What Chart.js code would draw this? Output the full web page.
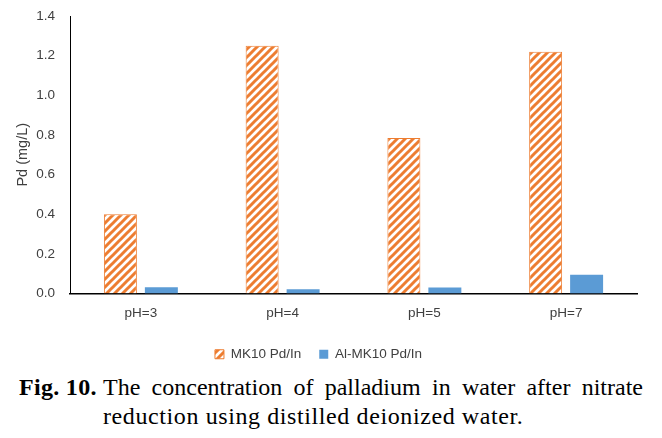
<!DOCTYPE html>
<html><head><meta charset="utf-8">
<script src="https://cdn.jsdelivr.net/npm/chart.js@4"></script>
<style>
html,body{margin:0;padding:0;background:#fff;width:662px;height:438px;overflow:hidden;}
#wrap{position:absolute;left:0;top:0;width:662px;height:371px;}
.cap{position:absolute;font-family:"Liberation Serif","Times New Roman",serif;font-size:24px;line-height:29px;color:#000;white-space:nowrap;}
#fig{left:19px;top:373px;font-weight:bold;letter-spacing:0.3px;}
#l1{left:103px;top:373px;width:540px;text-align:justify;text-align-last:justify;white-space:normal;}
#l2{left:103px;top:402px;letter-spacing:0.6px;}
</style></head><body>
<div id="wrap"><canvas id="c"></canvas></div>
<div class="cap" id="fig">Fig. 10.</div>
<div class="cap" id="l1">The concentration of palladium in water after nitrate</div>
<div class="cap" id="l2">reduction using distilled deionized water.</div>
<script>
const categories = ['pH=3','pH=4','pH=5','pH=7'];
const mk10 = [0.40, 1.25, 0.785, 1.22];
const alMk10 = [0.032, 0.022, 0.030, 0.095];
const seriesNames = ['MK10 Pd/In','Al-MK10 Pd/In'];
const yTicks = [0,0.2,0.4,0.6,0.8,1.0,1.2,1.4];

const pc = document.createElement('canvas'); pc.width = 8; pc.height = 8;
const g = pc.getContext('2d');
g.fillStyle = '#fff'; g.fillRect(0,0,8,8);
g.strokeStyle = '#ED7D31'; g.lineWidth = 3;
g.beginPath();
g.moveTo(0,8); g.lineTo(8,0);
g.moveTo(-4,4); g.lineTo(4,-4);
g.moveTo(4,12); g.lineTo(12,4);
g.stroke();
const hatch = g.createPattern(pc,'repeat');

const font = {family:'"Liberation Sans", Arial, sans-serif', size:13.5};
const titleFont = {family:'"Liberation Sans", Arial, sans-serif', size:14.5};
new Chart(document.getElementById('c'), {
  type:'bar',
  data:{
    labels:categories,
    datasets:[
      {label:seriesNames[0], data:mk10, backgroundColor:hatch, borderColor:'#ED7D31', borderWidth:1,
       categoryPercentage:0.578, barPercentage:0.805},
      {label:seriesNames[1], data:alMk10, backgroundColor:'#5B9BD5', borderWidth:0,
       categoryPercentage:0.578, barPercentage:0.805}
    ]
  },
  options:{
    responsive:true, maintainAspectRatio:false, animation:false,
    layout:{padding:{top:16,right:25,left:0,bottom:0}},
    plugins:{
      tooltip:{enabled:false},
      legend:{position:'bottom', labels:{boxWidth:9, boxHeight:9, padding:18, color:'#404040', font:font}}
    },
    scales:{
      x:{
        grid:{display:false, drawTicks:false},
        border:{display:true, color:'#000', width:1.5},
        ticks:{color:'#404040', font:font, padding:12, maxRotation:0},
        afterFit:(s)=>{ s.height = 36; }
      },
      y:{
        min:0, max:1.4,
        grid:{display:false, drawTicks:true, tickLength:12},
        border:{display:true, color:'#000', width:1},
        afterBuildTicks:(s)=>{ s.ticks = yTicks.map(v=>({value:v})); },
        ticks:{color:'#404040', font:font, padding:3, callback:(v)=>Number(v).toFixed(1)},
        title:{display:true, text:'Pd (mg/L)', color:'#404040', font:titleFont, padding:{top:14,bottom:0}},
        afterFit:(s)=>{ s.width = 70; }
      }
    }
  }
});
</script>
</body></html>
